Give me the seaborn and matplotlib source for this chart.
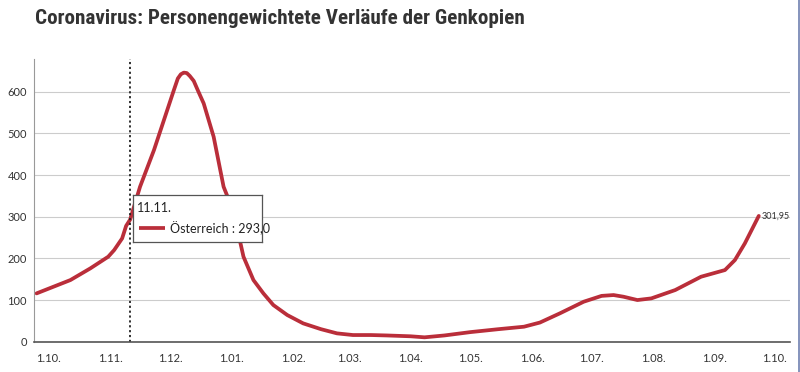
import matplotlib
matplotlib.use("Agg")
import matplotlib.pyplot as plt
import seaborn as sns
import pandas as pd
import numpy as np
from matplotlib import font_manager

# ---- data (days since 1 Oct) ----
days = [-6, 11, 21, 30, 33, 37, 39, 41, 46, 53, 58, 63, 65, 66.5, 68, 69.5,
        71, 73, 75, 78, 83, 88, 90, 95, 98, 103, 108, 113, 120, 128, 137, 145,
        153, 162, 170, 182, 189, 199, 212, 226, 239, 247, 257, 269, 278, 284,
        289, 296, 303, 315, 328, 340, 345, 350, 357]
values = [116, 148, 176, 204, 220, 248, 278, 293, 372, 460, 532, 604, 632, 642,
          646, 645, 638, 626, 604, 572, 492, 372, 348, 268, 204, 148, 116, 88,
          64, 44, 30, 20, 16, 16, 15, 13, 10.5, 15, 23, 30, 36, 46, 68, 96, 110,
          112, 108, 100, 104, 124, 156, 172, 196, 236, 301.95]
series_name = "Österreich"
tick_labels = ["1.10.", "1.11.", "1.12.", "1.01.", "1.02.", "1.03.", "1.04.",
               "1.05.", "1.06.", "1.07.", "1.08.", "1.09.", "1.10."]
yticks = [0, 100, 200, 300, 400, 500, 600]
title = "Coronavirus: Personengewichtete Verläufe der Genkopien"
tooltip_date = "11.11."
tooltip_value = "293,0"
end_label = "301,95"

start = pd.Timestamp("2021-10-01")
df = pd.DataFrame({"date": start + pd.to_timedelta(days, unit="D"),
                   "value": values})

sns.set_theme(style="white")
plt.rcParams["font.family"] = ["Lato", "DejaVu Sans"]

available = {f.name for f in font_manager.fontManager.ttflist}
title_family = ["Liberation Sans Narrow"] if "Liberation Sans Narrow" in available else ["Roboto Condensed"] if "Roboto Condensed" in available else ["Roboto"]
title_size = 15.2 if title_family[0] != "Roboto" else 13.5

fig = plt.figure(figsize=(8, 3.72), dpi=100)
ax = fig.add_axes([34 / 800, 1 - 341.7 / 372, (790 - 34) / 800, (341.7 - 59.3) / 372])

red = "#ba2e3a"
sns.lineplot(data=df, x="date", y="value", ax=ax, color=red, linewidth=2.7,
             solid_joinstyle="round", solid_capstyle="round")

ax.set_xlim(start - pd.Timedelta(days=7.3), start + pd.Timedelta(days=372.7))
ax.set_ylim(0, 678)

tick_dates = pd.date_range(start, periods=len(tick_labels), freq="MS")
ax.set_xticks(tick_dates)
ax.set_xticklabels(tick_labels)
ax.set_yticks(yticks)
ax.set_yticklabels([str(v) for v in yticks])
ax.tick_params(axis="both", length=0, labelsize=8, colors="#333333")
ax.tick_params(axis="x", pad=8)
ax.tick_params(axis="y", pad=5)
ax.set_xlabel("")
ax.set_ylabel("")

ax.yaxis.grid(True, color="#cccccc", linewidth=0.8)
ax.set_axisbelow(True)
for s in ["top", "right"]:
    ax.spines[s].set_visible(False)
ax.spines["left"].set_color("#999999")
ax.spines["left"].set_linewidth(0.8)
ax.spines["bottom"].set_color("#555555")
ax.spines["bottom"].set_linewidth(1.2)

# dotted cross-hair line
tip_date = start + pd.Timedelta(days=41)
ax.axvline(tip_date, color="#222222", linestyle=(0, (1.2, 1.5)), linewidth=1.3)

# end label
ax.annotate(end_label, xy=(df["date"].iloc[-1], df["value"].iloc[-1]),
            xytext=(2, 0), textcoords="offset points", fontsize=6.5,
            color="#333333", va="center", ha="left")

# tooltip box as an overlay axes above the chart
bx0, by0 = 133.3 / 800, 1 - 241.7 / 372
bw, bh = (261.7 - 133.3) / 800, (241.7 - 195) / 372
tip = fig.add_axes([bx0, by0, bw, bh], zorder=10)
tip.set_facecolor("white")
tip.set_xlim(0, 128.4)
tip.set_ylim(46.7, 0)
tip.set_xticks([])
tip.set_yticks([])
for s in tip.spines.values():
    s.set_visible(True)
    s.set_color("#555555")
    s.set_linewidth(0.9)
tip.text(3.7, 13, tooltip_date, fontsize=9, color="#222222", va="center", ha="left")
tip.plot([5.7, 31.7], [33, 33], color=red, linewidth=2.7, solid_capstyle="butt")
tip.text(36.7, 33, f"{series_name} : {tooltip_value}", fontsize=9,
         color="#222222", va="center", ha="left")

# title
fig.text(35 / 800, 1 - 18 / 372, title, fontsize=title_size, fontweight="bold",
         color="#333333", va="center", ha="left", family=title_family + ["DejaVu Sans"])

# right border line
fig.add_artist(plt.Line2D([799 / 800, 799 / 800], [0, 1], transform=fig.transFigure,
                          color="#7080b0", linewidth=1.2))

fig.savefig("out.png", dpi=100)
